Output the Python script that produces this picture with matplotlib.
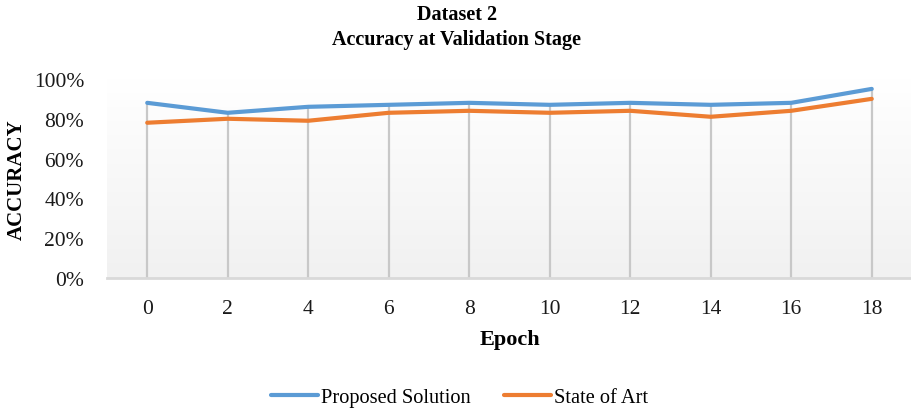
import numpy as np
import matplotlib
matplotlib.use("Agg")
import matplotlib.pyplot as plt
from matplotlib.ticker import PercentFormatter

epochs = [0, 2, 4, 6, 8, 10, 12, 14, 16, 18]
proposed = [0.88, 0.83, 0.86, 0.87, 0.88, 0.87, 0.88, 0.87, 0.88, 0.95]
state_of_art = [0.78, 0.80, 0.79, 0.83, 0.84, 0.83, 0.84, 0.81, 0.84, 0.90]
y_ticks = [0, 0.2, 0.4, 0.6, 0.8, 1.0]

plt.rcParams["font.family"] = ["Liberation Serif", "DejaVu Serif"]

fig = plt.figure(figsize=(9.12, 4.10), dpi=100)
ax = fig.add_axes([0.1173, 0.3195, 0.8827, 0.4855])

x = np.arange(len(epochs))

# plot-area gradient (white at top -> light grey at bottom)
grad = np.linspace(1.0, 0.0, 256).reshape(-1, 1)
top = np.array([1.0, 1.0, 1.0])
bot = np.array([0.945, 0.945, 0.945])
img = top * grad[..., None] + bot * (1 - grad[..., None])
ax.imshow(img, extent=[0, 1, 0, 1], transform=ax.transAxes,
          aspect="auto", zorder=0)

# drop lines
hi = np.maximum(proposed, state_of_art)
ax.vlines(x, 0, hi, color="#c8c8c8", lw=1.6, zorder=1)

ax.plot(x, proposed, color="#5b9bd5", lw=3, solid_capstyle="round",
        label="Proposed Solution", zorder=3)
ax.plot(x, state_of_art, color="#ed7d31", lw=3, solid_capstyle="round",
        label="State of Art", zorder=3)

ax.set_xlim(-0.5, len(epochs) - 0.5)
ax.set_ylim(0, 1.0)
ax.set_xticks(x)
ax.set_xticklabels([str(e) for e in epochs])
ax.set_yticks(y_ticks)
ax.yaxis.set_major_formatter(PercentFormatter(1.0, decimals=0))
ax.tick_params(length=0, labelsize=15.5, colors="#1a1a1a")
ax.tick_params(axis="x", pad=15)
ax.tick_params(axis="y", pad=16.5)

for s in ["top", "right", "left"]:
    ax.spines[s].set_visible(False)
ax.spines["bottom"].set_color("#d9d9d9")
ax.spines["bottom"].set_linewidth(2)
ax.spines["bottom"].set_zorder(2)

ax.set_xlabel("Epoch", fontsize=16, fontweight="bold", labelpad=8)
fig.text(0.018, 0.561, "ACCURACY", rotation=90, fontsize=15, fontweight="bold",
         ha="center", va="center")

fig.text(0.501, 0.963, "Dataset 2", fontsize=14.5, fontweight="bold",
         ha="center", va="center")
fig.text(0.501, 0.903, "Accuracy at Validation Stage", fontsize=14.5,
         fontweight="bold", ha="center", va="center")

fig.legend(loc="center", bbox_to_anchor=(0.504, 0.028), ncol=2, frameon=False,
           fontsize=14.7, handlelength=2.3, handletextpad=0.15,
           columnspacing=1.6)

fig.savefig("out.png", dpi=100)
